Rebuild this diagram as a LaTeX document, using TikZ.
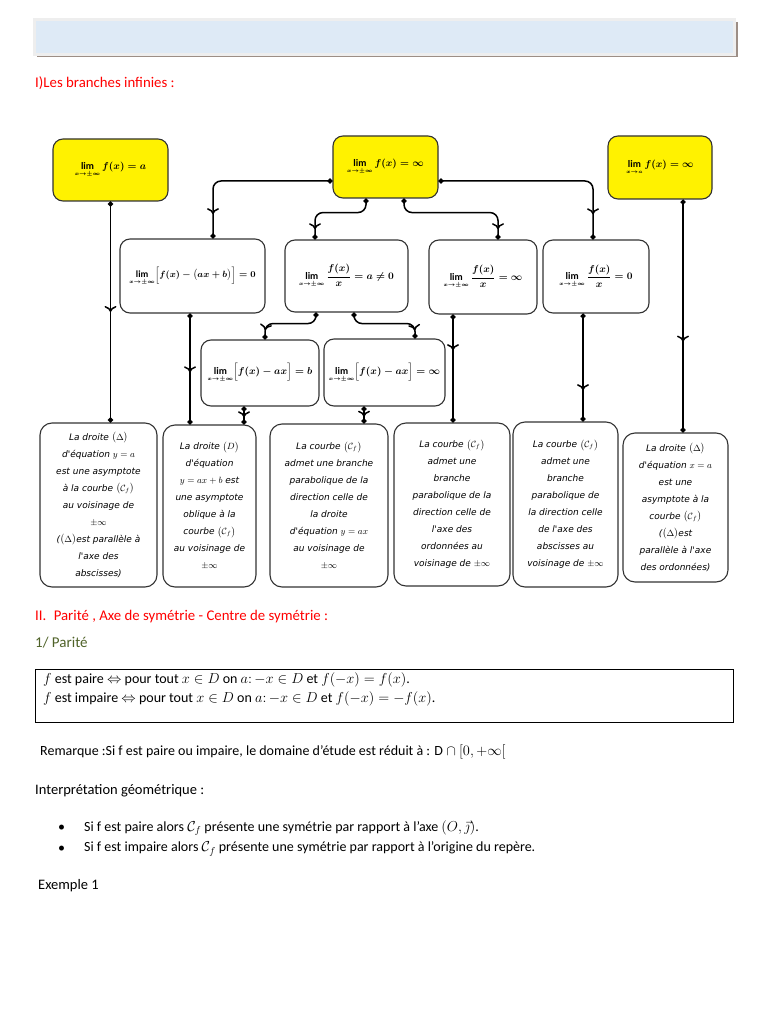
\documentclass[tikz,border=0pt]{standalone}
\usepackage{mathtools}
\usepackage{amssymb}
\usepackage{fontspec}
\setmainfont{Carlito}
\newfontfamily\comicfont{DejaVu Sans}
\usetikzlibrary{arrows.meta,decorations.markings}
\definecolor{barblue}{RGB}{222,234,246}
\definecolor{barframe}{RGB}{238,238,238}
\definecolor{barshadow}{RGB}{156,142,134}
\definecolor{titlered}{RGB}{255,0,0}
\definecolor{titlegreen}{RGB}{79,98,40}
\definecolor{boxgray}{RGB}{50,50,50}
\newcommand{\cf}{\bigl(\mathcal{C}_f\bigr)}
\newcommand{\dl}{\bigl(\Delta\bigr)}
\newcommand{\lm}{\lim\limits_{\scriptscriptstyle x\to\pm\infty}}

\tikzset{
  limbox/.style={draw=boxgray, line width=1.1pt, rounded corners=10pt, align=center, inner sep=0pt, font=\fontsize{10}{12}\selectfont\boldmath},
  yellowbox/.style={limbox, fill=yellow},
  resbox/.style={draw=boxgray, line width=1.1pt, rounded corners=12pt, align=center, inner sep=0pt, font=\comicfont\itshape\fontsize{9}{17}\selectfont},
  flow/.style={line width=1.5pt, {Circle[length=5pt]}-{Circle[length=5pt]}, rounded corners=8pt},
  midarrow/.style={postaction={decorate, decoration={markings, mark=at position #1 with {\arrow{To[length=6pt,width=12pt]}}}}},
  txt/.style={anchor=west, inner sep=0pt, font=\fontsize{14}{16}\selectfont},
}

\begin{document}
\begin{tikzpicture}[x=1pt,y=-1pt]
	\useasboundingbox (0,0) rectangle (768,1024);
	
	% header bar
	\fill[barshadow] (37,22) rectangle (738,57);
	\filldraw[fill=barblue, draw=barframe, line width=3pt] (34.5,19.5) rectangle (734.5,54.5);
	
	\node[txt, text=titlered, font=\fontsize{14.8}{16}\selectfont] (t1) at (35,83) {I)Les branches infinies :};
	
	% limits
	\node[yellowbox, minimum width=115pt, minimum height=62pt] (y1) at (110.5,170) {$\lm f(x)=a$};
	\node[yellowbox, minimum width=105pt, minimum height=62pt] (y2) at (385.5,167) {$\lm f(x)=\infty$};
	\node[yellowbox, minimum width=104pt, minimum height=63pt] (y3) at (660,167.5) {$\lim\limits_{\scriptscriptstyle x\to a} f(x)=\infty$};
	
	\node[limbox, minimum width=145pt, minimum height=74pt, font=\fontsize{9.5}{12}\selectfont\boldmath] (w1) at (192.5,276) {$\lm\Bigl[f(x)-\bigl(ax+b\bigr)\Bigr]=0$};
	\node[limbox, minimum width=123pt, minimum height=72pt] (w2) at (346.5,276) {$\lm\dfrac{f(x)}{x}=a\neq0$};
	\node[limbox, minimum width=108pt, minimum height=74pt] (w3) at (483,277) {$\lm\dfrac{f(x)}{x}=\infty$};
	\node[limbox, minimum width=106pt, minimum height=73pt] (w4) at (596,276.5) {$\lm\dfrac{f(x)}{x}=0$};
	\node[limbox, minimum width=118pt, minimum height=66pt] (w5) at (260,373) {$\lm\Bigl[f(x)-ax\Bigr]=b$};
	\node[limbox, minimum width=121pt, minimum height=67pt] (w6) at (384.5,372.5) {$\lm\Bigl[f(x)-ax\Bigr]=\infty$};
	
	% results
	\node[resbox, minimum width=117pt, minimum height=164pt] (b1) at (98.5,505) {La droite $\dl$\\ d'équation $y=a$\\ est une asymptote\\ à la courbe $\cf$\\ au voisinage de\\ $\pm\infty$\\ ($\dl$est parallèle à\\ l'axe des\\ abscisses)};
	\node[resbox, minimum width=93pt, minimum height=162pt] (b2) at (209.5,506) {La droite $\bigl(D\bigr)$\\ d'équation\\ $y=ax+b$ est\\ une asymptote\\ oblique à la\\ courbe $\cf$\\ au voisinage de\\ $\pm\infty$};
	\node[resbox, minimum width=118pt, minimum height=163pt] (b3) at (329,505.5) {La courbe $\cf$\\ admet une branche\\ parabolique de la\\ direction celle de\\ la droite\\ d'équation $y=ax$\\ au voisinage de\\ $\pm\infty$};
	\node[resbox, minimum width=116pt, minimum height=163pt] (b4) at (452,504.5) {La courbe $\cf$\\ admet une\\ branche\\ parabolique de la\\ direction celle de\\ l'axe des\\ ordonnées au\\ voisinage de $\pm\infty$};
	\node[resbox, minimum width=105pt, minimum height=165pt] (b5) at (565.5,504.5) {La courbe $\cf$\\ admet une\\ branche\\ parabolique de\\ la direction celle\\ de l'axe des\\ abscisses au\\ voisinage de $\pm\infty$};
	\node[resbox, minimum width=105pt, minimum height=149pt] (b6) at (675.5,507.5) {La droite $\dl$\\ d'équation $x=a$\\ est une\\ asymptote à la\\ courbe $\cf$\\ ($\dl$est\\ parallèle à l'axe\\ des ordonnées)};
	
	% connectors
	\draw[flow, midarrow=0.5] (y1.south) -- (y1.south |- b1.north);
	\draw[flow, midarrow=0.86] ([yshift=-14pt]y2.west) -| ([xshift=20.5pt]w1.north);
	\draw[flow, midarrow=0.88] ([xshift=-19.5pt]y2.south) -- ++(0,14) -| ([xshift=-31.5pt]w2.north);
	\draw[flow, midarrow=0.92] ([xshift=18.5pt]y2.south) -- ++(0,14) -| ([xshift=15pt]w3.north);
	\draw[flow, midarrow=0.88] ([yshift=-14pt]y2.east) -| ([xshift=-3pt]w4.north);
	\draw[flow, midarrow=0.61] ([xshift=23pt]y3.south) -- ([xshift=23pt]y3.south |- b6.north);
	\draw[flow, midarrow=0.53] ([xshift=-2.5pt]w1.south) -- ([xshift=-2.5pt]w1.south |- b2.north);
	\draw[flow, midarrow=0.87] ([xshift=-30.5pt]w2.south) -- ++(0,11) -| ([xshift=5pt]w5.north);
	\draw[flow, midarrow=0.9] ([xshift=7.5pt]w2.south) -- ++(0,11) -| ([xshift=30.5pt]w6.north);
	\draw[flow, midarrow=0.33] ([xshift=-30pt]w3.south) -- ([xshift=-30pt]w3.south |- b4.north);
	\draw[flow, midarrow=0.71] ([xshift=-13pt]w4.south) -- ([xshift=-13pt]w4.south |- b5.north);
	\draw[flow, midarrow=0.6] ([xshift=-16pt]w5.south) -- ([xshift=-16pt]w5.south |- b2.north);
	\draw[flow, midarrow=0.6] ([xshift=-20.5pt]w6.south) -- ([xshift=-20.5pt]w6.south |- b3.north);
	
	% parity
	\node[txt, text=titlered, font=\fontsize{14.8}{16}\selectfont] (t2) at (35,617) {II.\enspace Parité , Axe de symétrie - Centre de symétrie :};
	\node[txt, text=titlegreen, font=\fontsize{15}{17}\selectfont] (t3) at (35,643) {1/ Parité};
	\draw[line width=0.8pt] (35,669) rectangle (733,722);
	\node[txt] (p1) at (43,680) {$f$ est paire $\Leftrightarrow$ pour tout $x\in D$ on $a{:}\,{-x}\in D$ et $f(-x)=f(x)$.};
	\node[txt] (p2) at (43,699) {$f$ est impaire $\Leftrightarrow$ pour tout $x\in D$ on $a{:}\,{-x}\in D$ et $f(-x)=-f(x)$.};
	\node[txt] (rq) at (40,752) {Remarque :Si f est paire ou impaire, le domaine d'étude est réduit à : $\mathrm{D}\cap[0,+\infty[$};
	\node[txt, font=\fontsize{14.5}{16}\selectfont] (t4) at (35,791) {Interprétation géométrique :};
	\node[txt] (d1) at (58,828) {\textbullet};
	\node[txt] (s1) at (84,828) {Si f est paire alors $\mathcal{C}_f$ présente une symétrie par rapport à l'axe $(O,\vec{\jmath})$.};
	\node[txt] (d2) at (58,849) {\textbullet};
	\node[txt] (s2) at (84,849) {Si f est impaire alors $\mathcal{C}_f$ présente une symétrie par rapport à l'origine du repère.};
	\node[txt, font=\fontsize{14.5}{16}\selectfont] (t5) at (38,886) {Exemple 1};
\end{tikzpicture}
\end{document}
